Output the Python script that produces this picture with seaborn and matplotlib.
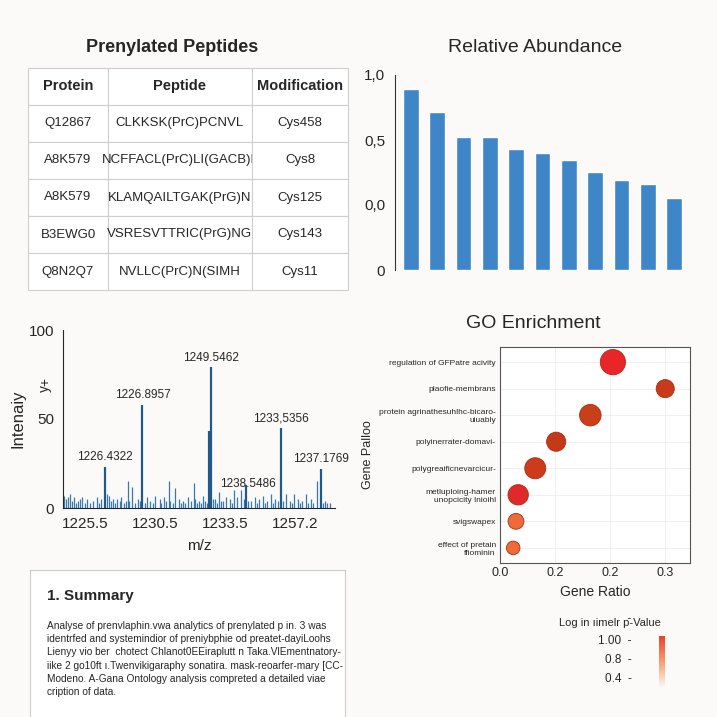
import matplotlib
matplotlib.use("Agg")
import matplotlib.pyplot as plt
import seaborn as sns
import numpy as np
import pandas as pd
from matplotlib.colors import LinearSegmentedColormap

# ---------------- data ----------------
table_header = ["Protein", "Peptide", "Modification"]
table_proteins = ["Q12867", "A8K579", "A8K579", "B3EWG0", "Q8N2Q7"]
table_peptides = ["CLKKSK(PrC)PCNVL", "NCFFACL(PrC)LI(GACB)L", "KLAMQAILTGAK(PrG)N",
                  "VSRESVTTRIC(PrG)NG", "NVLLC(PrC)N(SIMH"]
table_mods = ["Cys458", "Cys8", "Cys125", "Cys143", "Cys11"]

abund_values = [2.78, 2.43, 2.05, 2.05, 1.86, 1.80, 1.69, 1.51, 1.38, 1.32, 1.11]
abund_ticklabels = ["0", "0,0", "0,5", "1,0"]

spec_major_pos = [15.4, 29.2, 53.8, 54.3, 80.1, 94.7, 67.2]
spec_major_int = [23, 58, 43, 79, 45, 22, 13]
spec_major_labels = ["1226.4322", "1226.8957", "", "1249.5462", "1233,5356", "1237.1769", ""]
spec_minor_pos = [0.5, 1, 1.8, 2.5, 3.2, 4, 4.8, 5.5, 6.2, 7, 8, 9, 10, 11, 12.5, 13.2, 14, 16, 17, 17.8,
                  18.5, 19.2, 20, 20.8, 21.5, 22.5, 23.2, 24, 24.2, 25.3, 26.5, 27.5, 28.3, 30.2, 31, 32,
                  33, 34, 35.5, 36.2, 37, 38, 39, 39.5, 40.3, 41, 42.5, 43.2, 44, 45, 46, 47, 48, 48.5,
                  49.2, 50, 50.8, 51.5, 52.3, 53, 55, 56, 56.8, 57.5, 58.2, 59, 60, 61.5, 62.2, 63, 64,
                  65.5, 66.5, 68, 69, 70.5, 71.2, 72, 73.5, 74.2, 75, 76.5, 77.2, 78, 79, 81, 82, 83.5,
                  84.2, 85, 86.5, 87.2, 88, 89.5, 90.2, 91, 92, 93.2, 95.5, 96.5, 97.2, 98]
spec_minor_int = [7, 5, 6, 8, 4, 6, 3, 4, 5, 6, 3, 5, 3, 4, 6, 3, 5, 8, 7, 4,
                  5, 3, 5, 4, 6, 3, 4, 15, 4, 12, 3, 5, 4, 3, 6, 4,
                  3, 7, 5, 3, 6, 4, 15, 4, 3, 11, 5, 3, 4, 3, 6, 4, 14, 5,
                  3, 4, 3, 7, 4, 3, 5, 5, 3, 9, 4, 4, 6, 5, 3, 10, 6,
                  10, 5, 4, 4, 6, 3, 5, 7, 3, 4, 8, 3, 5, 4, 4, 8, 4,
                  3, 8, 5, 3, 4, 8, 3, 5, 3, 15, 3, 4, 3, 3]
spec_ticks = [8.1, 33.8, 59.6, 85.3]
spec_ticklabels = ["1225.5", "1230.5", "1233.5", "1257.2"]

go_terms = ["regulation of GFPatre acivity", "plaofie-membrans",
            "protein agrinathesuhlhc-bicaro-\nuiuably", "polyinerrater-domavi-",
            "polygreaificnevarcicur-", "metluploing-hamer\nunopcicity lnioihl",
            "svigswapex", "effect of pretain\nffiominin"]
go_ratio = [0.205, 0.300, 0.164, 0.102, 0.064, 0.033, 0.029, 0.024]
go_size = [330, 170, 240, 190, 230, 215, 130, 95]
go_color = ["#e8262a", "#c83a1a", "#c8401a", "#c43a18", "#cc3c1a", "#e02a2a", "#ee6a3a", "#ee6a3a"]

summary_lines = [
    "Analyse of prenvlaphin.vwa analytics of prenylated p in. 3 was",
    "identrfed and systemindior of preniybphie od preatet-dayiLoohs",
    "Lienyy vio ber  chotect Chlanot0EEiraplutt n Taka.VlEmentnatory-",
    "iike 2 go10ft ı.Twenvikigaraphy sonatira. mask-reoarfer-mary [CC-",
    "Modeno. A-Gana Ontology analysis compreted a detailed viae",
    "cription of data.",
]

# ---------------- figure ----------------
W = H = 717
bg = "#fbfaf8"
fig = plt.figure(figsize=(7.17, 7.17), dpi=100, facecolor=bg)
sns.set_style("white")
plt.rcParams["font.family"] = "Liberation Sans"

def rect(x0, y0, x1, y1):
    return [x0 / W, 1 - y1 / H, (x1 - x0) / W, (y1 - y0) / H]

# ---- table ----
fig.text(172 / W, 1 - 47 / H, "Prenylated Peptides", ha="center", va="center",
         fontsize=13, fontweight="bold")
axt = fig.add_axes(rect(28, 68, 348, 290))
axt.axis("off")
cells = [[p, q, m] for p, q, m in zip(table_proteins, table_peptides, table_mods)]
tb = axt.table(cellText=cells, colLabels=table_header, bbox=[0, 0, 1, 1],
               colWidths=[0.25, 0.45, 0.30], cellLoc="center")
tb.auto_set_font_size(False)
for (r, c), cell in tb.get_celld().items():
    cell.set_edgecolor("#cfcfcf")
    cell.set_facecolor("white")
    cell.set_linewidth(0.8)
    if r == 0:
        cell.get_text().set_fontweight("bold")
        cell.get_text().set_fontsize(10.5)
    else:
        cell.get_text().set_fontsize(9.5)

# ---- bar chart ----
axb = fig.add_axes(rect(395, 75, 690, 270))
axb.set_facecolor(bg)
sns.barplot(x=list(range(len(abund_values))), y=abund_values, color="#3f86c8",
            width=0.6, ax=axb, saturation=1)
axb.set_ylim(0, 3)
axb.set_yticks([0, 1, 2, 3])
axb.set_yticklabels(abund_ticklabels, fontsize=11)
axb.set_xticks([])
axb.set_xlim(-0.6, 10.6)
for s in ["top", "right", "bottom"]:
    axb.spines[s].set_visible(False)
axb.spines["left"].set_color("#333333")
axb.set_xlabel("")
fig.text(535 / W, 1 - 48 / H, "Relative Abundance", ha="center", va="center", fontsize=14)

# ---- spectrum ----
axs = fig.add_axes(rect(63, 330, 335, 508))
axs.set_facecolor(bg)
axs.vlines(spec_minor_pos, 0, spec_minor_int, color="#3a78b0", lw=0.9)
axs.vlines(spec_major_pos, 0, spec_major_int, color="#1f5a8a", lw=1.6)
for x, y, t in zip(spec_major_pos, spec_major_int, spec_major_labels):
    if t:
        axs.text(x, y + 2, t, ha="center", va="bottom", fontsize=8.5)
axs.text(68, 10, "1238.5486", ha="center", va="bottom", fontsize=8.5)
axs.set_xlim(0, 100)
axs.set_ylim(0, 100)
axs.set_yticks([0, 50, 100])
axs.set_yticklabels(["0", "50", "100"], fontsize=11)
axs.set_xticks(spec_ticks)
axs.set_xticklabels(spec_ticklabels, fontsize=11)
for s in ["top", "right"]:
    axs.spines[s].set_visible(False)
axs.tick_params(length=3)
axs.set_ylabel("Intenaiy", fontsize=12, labelpad=2)
axs.set_xlabel("m/z", fontsize=11, labelpad=6)
fig.text(42 / W, 1 - 385 / H, "+ʎ", rotation=270, fontsize=10, ha="center", va="center")

# ---- GO enrichment ----
axg = fig.add_axes(rect(500, 347, 690, 563))
axg.set_facecolor("white")
df = pd.DataFrame({"term": go_terms, "ratio": go_ratio, "y": range(len(go_terms))})
axg.scatter(df["ratio"], df["y"], s=go_size, c=go_color, edgecolors="#b02a10",
            linewidths=0.6, zorder=3)
axg.set_ylim(7.57, -0.57)
axg.set_xlim(0, 0.345)
axg.set_yticks(range(len(go_terms)))
axg.set_yticklabels(go_terms, fontsize=6)
axg.set_xticks([0, 0.1, 0.2, 0.3])
axg.set_xticklabels(["0.0", "0.2", "0.2", "0.3"], fontsize=9)
axg.grid(True, color="#eeeeee", lw=0.6)
axg.tick_params(length=0, pad=3)
for s in axg.spines.values():
    s.set_color("#555555")
axg.set_xlabel("Gene Ratio", fontsize=10)
axg.set_ylabel("Gene Palloo", fontsize=9, labelpad=4)
fig.text(533 / W, 1 - 323 / H, "GO Enrichment", ha="center", va="center", fontsize=14)

# colorbar legend
fig.text(610 / W, 1 - 623 / H, "Log in ıimelr p̄-Value", ha="center", va="center", fontsize=8)
axc = fig.add_axes(rect(659, 636, 665, 688))
cmap = LinearSegmentedColormap.from_list("c", ["#fbfaf8", "#f5a070", "#e8452a"])
grad = np.linspace(0, 1, 100).reshape(-1, 1)
axc.imshow(grad, aspect="auto", cmap=cmap, origin="lower", extent=[0, 1, 0.3, 1.05])
axc.set_xticks([])
axc.set_yticks([])
for s in axc.spines.values():
    s.set_visible(False)
for v, yy in [("1.00", 641), ("0.8", 660), ("0.4", 679)]:
    fig.text(632 / W, 1 - yy / H, v + "  -", ha="right", va="center", fontsize=8.5)

# ---- summary ----
axsum = fig.add_axes(rect(30, 570, 345, 717))
axsum.set_facecolor("white")
axsum.set_xticks([]); axsum.set_yticks([])
for s in axsum.spines.values():
    s.set_color("#cccccc")
axsum.spines["bottom"].set_visible(False)
fig.text(47 / W, 1 - 596 / H, "1. Summary", fontsize=11, fontweight="bold", va="center")
for i, line in enumerate(summary_lines):
    fig.text(47 / W, 1 - (626 + i * 13.2) / H, line, fontsize=7.3, va="center")

fig.savefig("out.png", dpi=100, facecolor=bg)
